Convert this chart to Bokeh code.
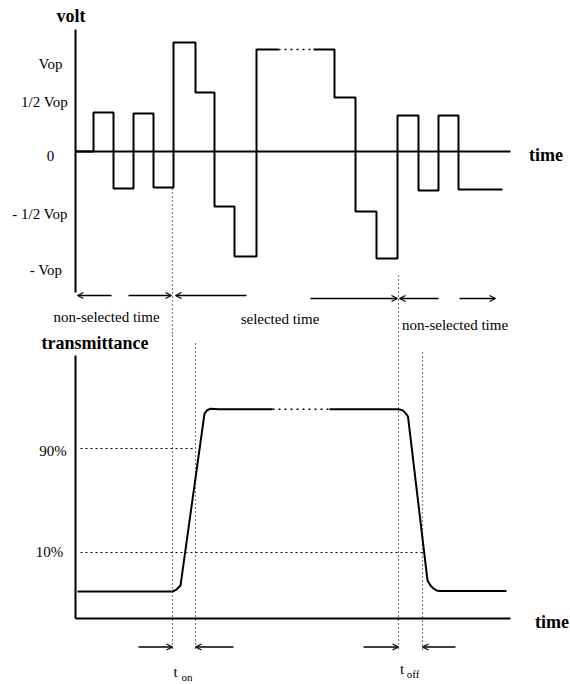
from bokeh.plotting import figure
from bokeh.models import Range1d, ColumnDataSource, Arrow, OpenHead
from bokeh.core.properties import value
from bokeh.embed import file_html
from bokeh.resources import INLINE

# ---------------- data ----------------
# drive voltage (time in arbitrary units, voltage in units of Vop)
volt_edges_a = [0, 18, 38, 58, 78, 98, 120, 139, 159, 181, 203]
volt_levels_a = [0, 0.39, -0.37, 0.38, -0.36, 1.09, 0.59, -0.55, -1.05, 1.02]
volt_gap = [203, 238]            # dotted (omitted) part of the selected period
volt_edges_b = [238, 259, 280, 301, 322, 343, 363, 383, 427]
volt_levels_b = [1.02, 0.54, -0.60, -1.07, 0.36, -0.39, 0.36, -0.38]

volt_tick_labels = ["Vop", "1/2 Vop", "0", "- 1/2 Vop", "- Vop"]
volt_tick_pos = [0.88, 0.50, -0.04, -0.62, -1.18]
volt_tick_x = [-25, -31, -25, -35.5, -29.5]

# period boundaries
t_sel_start = 97
t_sel_end = 323
t_on_end = 120
t_off_end = 347
t_axis_end = 435

# transmittance (percent)
trans_rise_t = [2, 97, 101, 105, 129, 131.5, 135, 139, 143, 197]
trans_rise_v = [-20, -20, -18.5, -15.4, 116.9, 119.4, 120.6, 120.4, 120.2, 120.2]
trans_fall_t = [254, 323, 327, 330, 332.5, 352, 355, 358, 361, 364, 431]
trans_fall_v = [120.2, 120.2, 119.5, 117.2, 114.6, -11.5, -15.4, -17.7, -19.2, -19.6, -19.6]
trans_tick_labels = ["90%", "10%"]
trans_tick_pos = [90, 10]
trans_label_pos = [87.7, 10]
trans_label_x = [-22.5, -26]

period_labels = ["non-selected time", "selected time", "non-selected time"]
period_label_t = [31, 204.5, 379.5]
period_label_v = [-1.65, -1.67, -1.73]

FONT = value("Liberation Serif")


def step_path(edges, levels):
    xs, ys = [], []
    for i, lv in enumerate(levels):
        xs += [edges[i], edges[i + 1]]
        ys += [lv, lv]
    return xs, ys


p = figure(width=570, height=684, x_range=Range1d(-75, 495), y_range=Range1d(-5.33, 1.51),
           output_backend="svg", toolbar_location=None, min_border=0,
           x_axis_type=None, y_axis_type=None, outline_line_color=None)
p.extra_y_ranges = {"trans": Range1d(-91.54, 434.62)}
p.grid.visible = False
p.background_fill_color = "white"
p.border_fill_color = "white"

LW = 2
# ---------------- top panel: voltage ----------------
p.segment(x0=[0], y0=[-1.41], x1=[0], y1=[1.22], line_color="black", line_width=LW)
p.segment(x0=[0], y0=[0], x1=[t_axis_end], y1=[0], line_color="black", line_width=LW)

xa, ya = step_path(volt_edges_a, volt_levels_a)
p.line(xa, ya, line_color="black", line_width=LW)
xb, yb = step_path(volt_edges_b, volt_levels_b)
p.line(xb, yb, line_color="black", line_width=LW)
p.line(volt_gap, [volt_levels_a[-1]] * 2, line_color="black", line_width=1.3, line_dash="2 4")

p.text(x=volt_tick_x, y=volt_tick_pos, text=volt_tick_labels, text_font=FONT,
       text_font_size="15px", text_align="center", text_baseline="middle", text_color="black")
p.text(x=[-4.5], y=[1.36], text=["volt"], text_font=FONT, text_font_style="bold",
       text_font_size="18px", text_align="center", text_baseline="middle", text_color="black")
p.text(x=[470.5], y=[-0.03], text=["time"], text_font=FONT, text_font_style="bold",
       text_font_size="18px", text_align="center", text_baseline="middle", text_color="black")

# period arrows
arr_top = ColumnDataSource(dict(
    x0=[36, 53, 171, 235, 363, 384],
    x1=[2, 96, 100, 322, 324, 420],
    y0=[-1.44, -1.44, -1.44, -1.47, -1.47, -1.47],
    y1=[-1.44, -1.44, -1.44, -1.47, -1.47, -1.47],
))
p.add_layout(Arrow(end=OpenHead(size=6, line_width=1.2, line_color="black"),
                   x_start="x0", y_start="y0", x_end="x1", y_end="y1",
                   source=arr_top, line_width=1.5, line_color="black"))
p.text(x=period_label_t, y=period_label_v, text=period_labels, text_font=FONT,
       text_font_size="15px", text_align="center", text_baseline="middle", text_color="black")

# dotted guides (top parts, in volt units)
p.segment(x0=[t_sel_start, t_sel_end], y0=[-0.37, -1.24], x1=[t_sel_start, t_sel_end], y1=[-1.84, -1.84],
          line_color="black", line_width=1.2, line_dash="1 3")

# ---------------- bottom panel: transmittance ----------------
TR = "trans"
p.segment(x0=[0], y0=[-40.8], x1=[0], y1=[161.5], line_color="black", line_width=LW, y_range_name=TR)
p.segment(x0=[0], y0=[-40.8], x1=[t_axis_end], y1=[-40.8], line_color="black", line_width=LW, y_range_name=TR)

p.line(trans_rise_t, trans_rise_v, line_color="black", line_width=LW, y_range_name=TR)
p.line(trans_fall_t, trans_fall_v, line_color="black", line_width=LW, y_range_name=TR)
p.line([trans_rise_t[-1], trans_fall_t[0]], [trans_rise_v[-1], trans_fall_v[0]],
       line_color="black", line_width=1.3, line_dash="2 4", y_range_name=TR)

# dotted guides (bottom parts)
p.segment(x0=[t_sel_start, t_on_end, t_sel_end, t_off_end],
          y0=[176.9, 170.8, 176.9, 163.8],
          x1=[t_sel_start, t_on_end, t_sel_end, t_off_end],
          y1=[-66.2, -66.2, -66.2, -66.2],
          line_color="black", line_width=1.2, line_dash="1 3", y_range_name=TR)
# 10% / 90% levels
p.segment(x0=[5, 5], y0=trans_tick_pos, x1=[t_on_end, t_off_end], y1=trans_tick_pos,
          line_color="black", line_width=1, line_dash="2 3", y_range_name=TR)

p.text(x=trans_label_x, y=trans_label_pos, text=trans_tick_labels, text_font=FONT,
       text_font_size="15px", text_align="center", text_baseline="middle", text_color="black",
       y_range_name=TR)
p.text(x=[19.5], y=[170.8], text=["transmittance"], text_font=FONT, text_font_style="bold",
       text_font_size="18px", text_align="center", text_baseline="middle", text_color="black",
       y_range_name=TR)
p.text(x=[476.5], y=[-43.6], text=["time"], text_font=FONT, text_font_style="bold",
       text_font_size="18px", text_align="center", text_baseline="middle", text_color="black",
       y_range_name=TR)

arr_bot = ColumnDataSource(dict(
    x0=[63, 158, 288, 380],
    x1=[t_sel_start, t_on_end, t_sel_end, t_off_end],
    y0=[-62.7, -62.7, -62.7, -62.7],
    y1=[-62.7, -62.7, -62.7, -62.7],
))
p.add_layout(Arrow(end=OpenHead(size=6, line_width=1.2, line_color="black"),
                   x_start="x0", y_start="y0", x_end="x1", y_end="y1",
                   source=arr_bot, line_width=1.5, line_color="black", y_range_name=TR))

p.text(x=[100, 326.5], y=[-82.3, -80.0], text=["t", "t"], text_font=FONT,
       text_font_size="15px", text_align="center", text_baseline="middle", text_color="black",
       y_range_name=TR)
p.text(x=[111.5, 337.5], y=[-86.0, -83.1], text=["on", "off"], text_font=FONT,
       text_font_size="11px", text_align="center", text_baseline="middle", text_color="black",
       y_range_name=TR)

open("out.html", "w").write(file_html(p, INLINE))
